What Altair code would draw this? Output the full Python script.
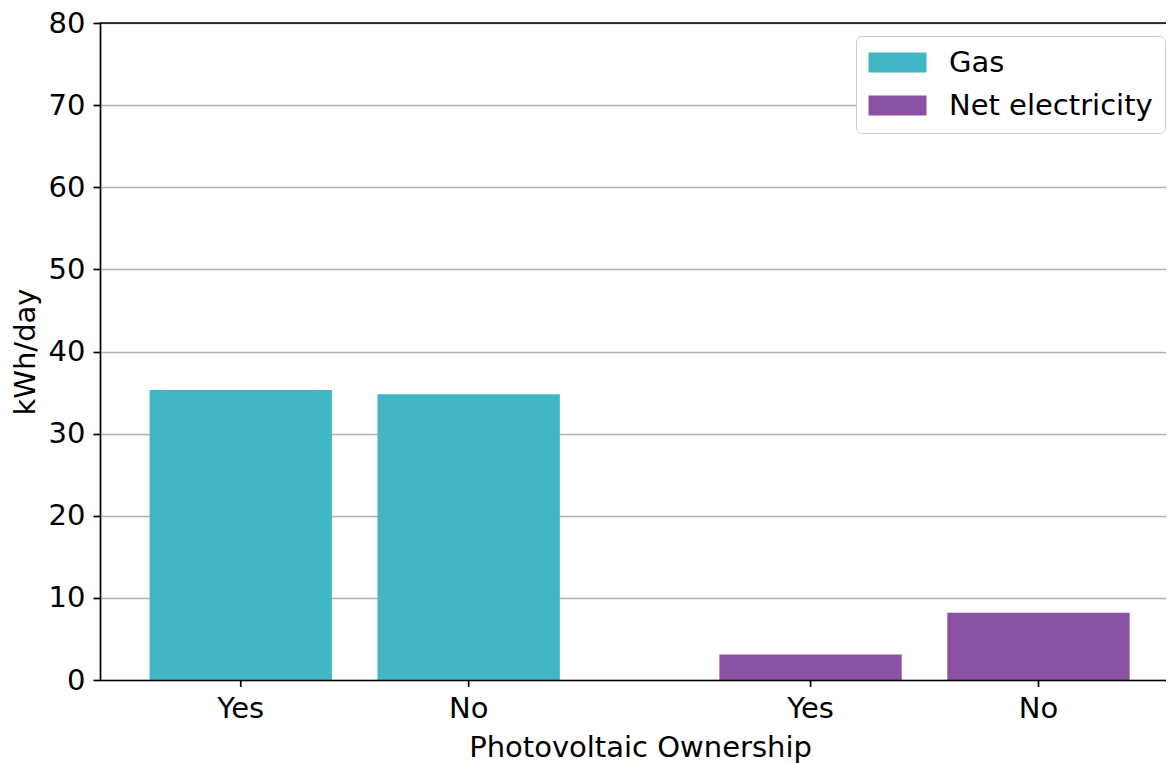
import altair as alt
import pandas as pd

# data
energy = ["Gas", "Gas", "Net electricity", "Net electricity"]
pv = ["Yes", "No", "Yes", "No"]
kwh = [35.3, 34.8, 3.1, 8.2]

series = ["Gas", "Net electricity"]
colors = ["#41b6c4", "#8b52a3"]
pv_order = ["Yes", "No"]

df = pd.DataFrame({"energy": energy, "pv": pv, "kwh": kwh})

W, H = 1066, 657
FONT = "DejaVu Sans"
FS = 29

xscale = alt.Scale(domain=series, paddingInner=0.2, paddingOuter=0.0354, align=0.664)
xoff_scale = alt.Scale(domain=pv_order, paddingInner=0.2, paddingOuter=0.1)

base = alt.Chart(df)

bars = base.mark_bar().encode(
    x=alt.X("energy:N", scale=xscale,
            axis=alt.Axis(title="Photovoltaic Ownership", labels=False, ticks=False,
                          domain=True, domainColor="black", domainWidth=1.7,
                          titleFontSize=FS, titleFont=FONT, titleFontWeight="normal",
                          titleColor="black", titlePadding=53, titleX=540, zindex=1)),
    xOffset=alt.XOffset("pv:N", scale=xoff_scale, sort=pv_order),
    y=alt.Y("kwh:Q", scale=alt.Scale(domain=[0, 80], nice=False),
            axis=alt.Axis(title="kWh/day", values=list(range(0, 81, 10)),
                          grid=True, gridColor="#b0b0b0", gridWidth=1.7,
                          domainColor="black", domainWidth=1.7,
                          tickColor="black", tickWidth=1.7, tickSize=7,
                          labelPadding=8, labelFontSize=FS, labelFont=FONT,
                          labelColor="black", titleFontSize=FS, titleFont=FONT,
                          titleFontWeight="normal", titleColor="black",
                          titlePadding=8)),
    color=alt.Color("energy:N", scale=alt.Scale(domain=series, range=colors),
                    legend=alt.Legend(title=None, orient="none", legendX=756, legendY=13,
                                      symbolType="M-1.4,-1H4.4V1H-1.4Z", symbolSize=400,
                                      symbolStrokeWidth=0, symbolOpacity=1,
                                      labelOffset=52, labelFontSize=FS, labelFont=FONT,
                                      labelColor="black", labelLimit=0,
                                      rowPadding=13, padding=12,
                                      strokeColor="#cccccc", fillColor="white",
                                      cornerRadius=6)),
)

ticks = base.mark_rule(color="black", strokeWidth=1.7).encode(
    x=alt.X("energy:N", scale=xscale),
    xOffset=alt.XOffset("pv:N", scale=xoff_scale, sort=pv_order),
    y=alt.value(H),
    y2=alt.value(H + 7),
)

labels = base.mark_text(baseline="alphabetic", align="center", fontSize=FS,
                        font=FONT, color="black").encode(
    x=alt.X("energy:N", scale=xscale),
    xOffset=alt.XOffset("pv:N", scale=xoff_scale, sort=pv_order),
    y=alt.value(H + 38),
    text="pv:N",
)

top_spine = alt.Chart(pd.DataFrame({"s": [0]})).mark_rule(
    color="black", strokeWidth=1.7).encode(y=alt.value(0))

chart = alt.layer(bars, ticks, labels, top_spine).properties(
    width=W, height=H,
    autosize=alt.AutoSizeParams(type="none"),
    padding={"left": 92, "top": 15, "right": 0, "bottom": 83},
).configure_view(stroke=None)

chart.save("out.html", embed_options={"renderer": "svg", "actions": False})
